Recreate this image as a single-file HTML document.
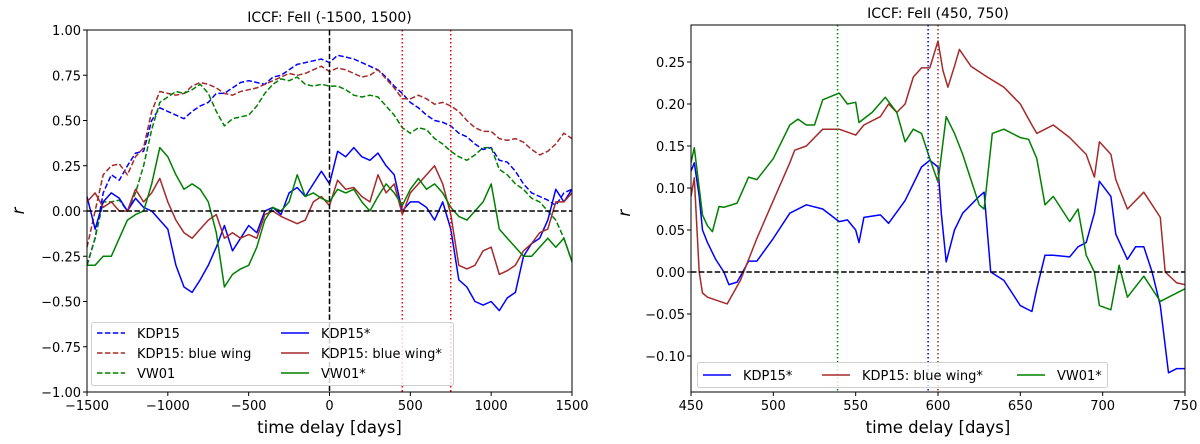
<!DOCTYPE html>
<html><head><meta charset="utf-8">
<style>
html,body{margin:0;padding:0;background:#fff;}
svg{display:block;font-family:"DejaVu Sans","Liberation Sans",sans-serif;}
</style></head>
<body>
<svg id="fig" width="1200" height="444" viewBox="0 0 1200 444"></svg>
<script>
// ---------- Left chart data ----------
const leftX = [];
for (let v = -1500; v <= 1500; v += 50) leftX.push(v);
const kdp15 = [-0.3,-0.15,0.1,0.2,0.17,0.25,0.32,0.33,0.5,0.57,0.55,0.53,0.51,0.55,0.58,0.6,0.65,0.65,0.68,0.71,0.72,0.71,0.7,0.74,0.75,0.78,0.81,0.82,0.83,0.84,0.82,0.86,0.85,0.84,0.82,0.8,0.78,0.74,0.69,0.65,0.6,0.57,0.53,0.5,0.49,0.47,0.43,0.41,0.37,0.34,0.35,0.28,0.27,0.22,0.15,0.1,0.08,0.06,0.03,0.1,0.12];
const kdp15Wing = [-0.2,0.0,0.2,0.25,0.26,0.2,0.3,0.35,0.55,0.66,0.65,0.64,0.65,0.69,0.71,0.7,0.68,0.65,0.64,0.66,0.67,0.68,0.7,0.72,0.74,0.76,0.75,0.76,0.78,0.8,0.77,0.79,0.78,0.76,0.74,0.75,0.78,0.73,0.68,0.62,0.62,0.64,0.62,0.59,0.6,0.58,0.55,0.5,0.46,0.44,0.44,0.4,0.39,0.4,0.38,0.34,0.31,0.33,0.37,0.43,0.4];
const vw01 = [-0.3,-0.15,0.05,0.05,0.06,0.0,0.1,0.25,0.45,0.6,0.63,0.66,0.65,0.67,0.7,0.65,0.55,0.47,0.51,0.52,0.53,0.58,0.65,0.7,0.73,0.72,0.74,0.7,0.69,0.7,0.69,0.69,0.67,0.64,0.63,0.64,0.63,0.58,0.53,0.46,0.43,0.46,0.45,0.4,0.37,0.33,0.3,0.28,0.31,0.35,0.35,0.23,0.2,0.15,0.12,0.07,0.05,0.0,-0.05,-0.15,-0.28];
const kdp15S = [0.08,-0.1,0.05,0.1,0.07,0.0,0.07,0.02,0.0,-0.05,-0.1,-0.3,-0.42,-0.45,-0.38,-0.3,-0.2,-0.08,-0.22,-0.15,-0.08,-0.12,0.0,0.02,-0.02,0.1,0.13,0.08,0.15,0.22,0.15,0.33,0.3,0.35,0.3,0.28,0.32,0.25,0.2,0.0,0.05,0.05,0.02,-0.05,0.05,-0.1,-0.38,-0.42,-0.5,-0.52,-0.5,-0.55,-0.48,-0.45,-0.25,-0.18,-0.15,-0.05,0.12,0.05,0.12];
const kdp15WingS = [0.05,0.1,0.02,0.05,0.0,0.0,0.12,0.05,0.1,0.18,0.05,-0.05,-0.12,-0.15,-0.1,-0.05,-0.02,-0.15,-0.12,-0.15,-0.13,-0.15,-0.02,0.0,-0.03,-0.05,-0.07,-0.05,0.05,0.08,0.03,0.17,0.12,0.13,0.08,0.05,0.2,0.1,0.15,-0.02,0.1,0.15,0.2,0.25,0.15,-0.02,-0.3,-0.32,-0.3,-0.22,-0.2,-0.35,-0.33,-0.3,-0.22,-0.18,-0.12,-0.1,0.05,0.05,0.1];
const vw01S = [-0.3,-0.3,-0.25,-0.25,-0.15,-0.05,-0.02,0.0,0.15,0.35,0.3,0.2,0.12,0.15,0.12,0.05,-0.12,-0.42,-0.35,-0.32,-0.3,-0.2,-0.05,0.02,0.0,0.05,0.2,0.08,0.1,0.07,0.05,0.12,0.1,0.12,0.05,0.0,0.08,0.15,0.1,0.03,0.12,0.18,0.12,0.15,0.1,0.02,-0.03,-0.05,0.0,0.05,0.15,-0.1,-0.15,-0.2,-0.25,-0.25,-0.2,-0.15,-0.2,-0.15,-0.28];
const leftXTicks = [-1500,-1000,-500,0,500,1000,1500];
const leftYTicks = [1.0,0.75,0.5,0.25,0.0,-0.25,-0.5,-0.75,-1.0];
const leftVLinesRed = [450,750];

// ---------- Right chart data ----------
const rKdpX = [450,452,455,457,460,465,470,473,478,480,485,490,500,510,520,530,540,545,550,552,555,565,570,580,590,595,600,602,605,610,615,625,628,632,640,650,657,660,665,670,680,685,690,695,698,705,708,715,720,725,730,735,740,745,750];
const rKdpY = [0.12,0.13,0.09,0.05,0.035,0.015,0.0,-0.015,-0.012,-0.005,0.013,0.013,0.04,0.07,0.08,0.075,0.06,0.062,0.05,0.035,0.065,0.068,0.058,0.085,0.125,0.133,0.125,0.07,0.012,0.05,0.07,0.09,0.095,0.0,-0.01,-0.04,-0.047,-0.02,0.02,0.02,0.018,0.03,0.035,0.07,0.108,0.09,0.045,0.015,0.03,0.03,0.0,-0.04,-0.12,-0.115,-0.115];
const rWingX = [450,452,455,457,460,472,480,490,500,510,513,520,530,540,550,555,565,570,575,580,585,590,595,600,603,606,610,613,620,630,640,650,657,660,670,680,690,695,698,705,708,715,725,735,738,745,750];
const rWingY = [0.09,0.112,0.0,-0.025,-0.03,-0.038,-0.01,0.04,0.085,0.13,0.145,0.15,0.17,0.17,0.163,0.175,0.185,0.2,0.19,0.2,0.232,0.243,0.243,0.275,0.24,0.22,0.245,0.265,0.245,0.232,0.22,0.2,0.175,0.165,0.175,0.16,0.14,0.113,0.155,0.14,0.11,0.075,0.095,0.065,0.0,-0.013,-0.015];
const rVwX = [450,452,455,457,460,463,467,470,478,485,490,500,510,515,520,525,530,540,545,550,552,560,568,575,580,585,590,595,600,605,610,615,620,625,628,633,640,650,655,660,665,670,680,685,690,695,698,705,710,715,725,735,740,750];
const rVwY = [0.13,0.148,0.1,0.068,0.055,0.048,0.078,0.077,0.082,0.113,0.11,0.135,0.175,0.182,0.175,0.175,0.205,0.213,0.2,0.202,0.178,0.19,0.208,0.19,0.155,0.17,0.165,0.135,0.107,0.185,0.165,0.14,0.11,0.08,0.075,0.165,0.17,0.16,0.158,0.135,0.08,0.09,0.06,0.075,0.02,0.0,-0.04,-0.045,0.008,-0.03,-0.005,-0.035,-0.03,-0.02];
const rightXTicks = [450,500,550,600,650,700,750];
const rightYTicks = [0.25,0.2,0.15,0.1,0.05,0.0,-0.05,-0.1];
const rightPeaks = [539,594,600];

// ---------- helpers ----------
const NS = "http://www.w3.org/2000/svg";
const svg = document.getElementById('fig');
function mk(tag, attrs, parent) {
  const e = document.createElementNS(NS, tag);
  for (const k in attrs) e.setAttribute(k, attrs[k]);
  (parent || svg).appendChild(e);
  return e;
}
function fmt(v, d) { const s = Math.abs(v).toFixed(d); return (v < -1e-9 ? '\u2212' : '') + s; }

const BLUE = '#0000ff', BROWN = '#a52a2a', GREEN = '#008000';

// ---------- Left axes ----------
const L = {x0: 87, x1: 572, y0: 30, y1: 392, xmin: -1500, xmax: 1500, ymin: -1, ymax: 1};
const lx = v => L.x0 + (v - L.xmin) / (L.xmax - L.xmin) * (L.x1 - L.x0);
const ly = v => L.y1 - (v - L.ymin) / (L.ymax - L.ymin) * (L.y1 - L.y0);

const gL = mk('g', {});


const clipL = mk('clipPath', {id: 'clipL'}, gL);
mk('rect', {x: L.x0, y: L.y0, width: L.x1 - L.x0, height: L.y1 - L.y0}, clipL);

function series(g, xs, ys, xf, yf, color, dash, name, clip) {
  const d = xs.map((x, i) => (i ? 'L' : 'M') + xf(x).toFixed(1) + ' ' + yf(ys[i]).toFixed(1)).join(' ');
  const p = mk('path', {d: d, fill: 'none', stroke: color, 'stroke-width': 1.5, 'clip-path': clip, 'stroke-linejoin': 'round'}, g);
  if (dash) p.setAttribute('stroke-dasharray', dash);
  
  
}
series(gL, leftX, kdp15, lx, ly, BLUE, '5.5 2.4', 'kdp15-dashed-line', 'url(#clipL)');
series(gL, leftX, kdp15Wing, lx, ly, BROWN, '5.5 2.4', 'kdp15-blue-wing-dashed-line', 'url(#clipL)');
series(gL, leftX, vw01, lx, ly, GREEN, '5.5 2.4', 'vw01-dashed-line', 'url(#clipL)');
series(gL, leftX, kdp15S, lx, ly, BLUE, null, 'kdp15-star-line', 'url(#clipL)');
series(gL, leftX, kdp15WingS, lx, ly, BROWN, null, 'kdp15-blue-wing-star-line', 'url(#clipL)');
series(gL, leftX, vw01S, lx, ly, GREEN, null, 'vw01-star-line', 'url(#clipL)');

const zl = mk('line', {x1: L.x0, x2: L.x1, y1: ly(0), y2: ly(0), stroke: '#000', 'stroke-width': 1.5, 'stroke-dasharray': '5.5 2.4'}, gL);


const vz = mk('line', {x1: lx(0), x2: lx(0), y1: L.y0, y2: L.y1, stroke: '#000', 'stroke-width': 1.5, 'stroke-dasharray': '5.5 2.4'}, gL);


leftVLinesRed.forEach(v => {
  const l = mk('line', {x1: lx(v), x2: lx(v), y1: L.y0, y2: L.y1, stroke: '#ff0000', 'stroke-width': 1.5, 'stroke-dasharray': '1.5 2.5'}, gL);
  
  
});

// legend left
const legL = mk('g', {}, gL);


mk('rect', {x: 91.5, y: 322.5, width: 362, height: 63, rx: 2, fill: '#fff', 'fill-opacity': 0.8, stroke: '#d0d0d0'}, legL);
const legItemsL = [
  [97, 333, BLUE, true, 'KDP15'], [97, 353, BROWN, true, 'KDP15: blue wing'], [97, 373, GREEN, true, 'VW01'],
  [281, 333, BLUE, false, 'KDP15*'], [281, 353, BROWN, false, 'KDP15: blue wing*'], [281, 373, GREEN, false, 'VW01*']];
legItemsL.forEach(it => {
  const g = mk('g', {}, legL);
  
  
  const l = mk('line', {x1: it[0], x2: it[0] + 28, y1: it[1], y2: it[1], stroke: it[2], 'stroke-width': 1.5}, g);
  if (it[3]) l.setAttribute('stroke-dasharray', '5.5 2.4');
  const t = mk('text', {x: it[0] + 40, y: it[1] + 5, 'font-size': 13}, g);
  t.textContent = it[4];
});

// frame + ticks left
mk('rect', {x: L.x0, y: L.y0, width: L.x1 - L.x0, height: L.y1 - L.y0, fill: 'none', stroke: '#000', 'stroke-width': 1}, gL);
leftXTicks.forEach(v => {
  mk('line', {x1: lx(v), x2: lx(v), y1: L.y1, y2: L.y1 + 4, stroke: '#000'}, gL);
  const t = mk('text', {x: lx(v), y: L.y1 + 18, 'font-size': 13, 'text-anchor': 'middle'}, gL);
  
  
  t.textContent = fmt(v, 0);
});
leftYTicks.forEach(v => {
  mk('line', {x1: L.x0 - 4, x2: L.x0, y1: ly(v), y2: ly(v), stroke: '#000'}, gL);
  const t = mk('text', {x: L.x0 - 6, y: ly(v) + 5, 'font-size': 13, 'text-anchor': 'end'}, gL);
  
  
  t.textContent = fmt(v, 2);
});
let t;
t = mk('text', {x: (L.x0 + L.x1) / 2, y: 22, 'font-size': 14, 'text-anchor': 'middle'}, gL);
 
t.textContent = 'ICCF: FeII (-1500, 1500)';
t = mk('text', {x: (L.x0 + L.x1) / 2, y: 433, 'font-size': 16.5, 'text-anchor': 'middle'}, gL);
 
t.textContent = 'time delay [days]';
t = mk('text', {x: 0, y: 0, 'font-size': 16.5, 'font-style': 'italic', 'text-anchor': 'middle', transform: 'translate(24,' + ly(0) + ') rotate(-90)'}, gL);
 
t.textContent = 'r';

// ---------- Right axes ----------
const R = {x0: 691, x1: 1185, y0: 25, y1: 392, xmin: 450, xmax: 750};
const rx = v => R.x0 + (v - R.xmin) / (R.xmax - R.xmin) * (R.x1 - R.x0);
const ry = v => 272 - v * 840;

const gR = mk('g', {});


const clipR = mk('clipPath', {id: 'clipR'}, gR);
mk('rect', {x: R.x0, y: R.y0, width: R.x1 - R.x0, height: R.y1 - R.y0}, clipR);

series(gR, rKdpX, rKdpY, rx, ry, BLUE, null, 'right-kdp15-star-line', 'url(#clipR)');
series(gR, rWingX, rWingY, rx, ry, BROWN, null, 'right-kdp15-blue-wing-star-line', 'url(#clipR)');
series(gR, rVwX, rVwY, rx, ry, GREEN, null, 'right-vw01-star-line', 'url(#clipR)');

const zr = mk('line', {x1: R.x0, x2: R.x1, y1: ry(0), y2: ry(0), stroke: '#000', 'stroke-width': 1.5, 'stroke-dasharray': '5.5 2.4'}, gR);


const peakColors = [GREEN, BLUE, BROWN];
const peakNames = ['vw01-peak-line', 'kdp15-peak-line', 'blue-wing-peak-line'];
rightPeaks.forEach((v, i) => {
  const l = mk('line', {x1: rx(v), x2: rx(v), y1: R.y0, y2: R.y1, stroke: peakColors[i], 'stroke-width': 1.5, 'stroke-dasharray': '1.5 2.5'}, gR);
  
  
});

const legR = mk('g', {}, gR);


mk('rect', {x: 697.5, y: 362.5, width: 410, height: 25, rx: 2, fill: '#fff', 'fill-opacity': 0.8, stroke: '#d0d0d0'}, legR);
const legItemsR = [[703, BLUE, 'KDP15*'], [822, BROWN, 'KDP15: blue wing*'], [1017, GREEN, 'VW01*']];
legItemsR.forEach(it => {
  const g = mk('g', {}, legR);
  
  
  mk('line', {x1: it[0], x2: it[0] + 28, y1: 375, y2: 375, stroke: it[1], 'stroke-width': 1.5}, g);
  const tt = mk('text', {x: it[0] + 40, y: 380, 'font-size': 13}, g);
  tt.textContent = it[2];
});

mk('rect', {x: R.x0, y: R.y0, width: R.x1 - R.x0, height: R.y1 - R.y0, fill: 'none', stroke: '#000', 'stroke-width': 1}, gR);
rightXTicks.forEach(v => {
  mk('line', {x1: rx(v), x2: rx(v), y1: R.y1, y2: R.y1 + 4, stroke: '#000'}, gR);
  const tt = mk('text', {x: rx(v), y: R.y1 + 18, 'font-size': 13, 'text-anchor': 'middle'}, gR);
  
  
  tt.textContent = fmt(v, 0);
});
rightYTicks.forEach(v => {
  mk('line', {x1: R.x0 - 4, x2: R.x0, y1: ry(v), y2: ry(v), stroke: '#000'}, gR);
  const tt = mk('text', {x: R.x0 - 6, y: ry(v) + 5, 'font-size': 13, 'text-anchor': 'end'}, gR);
  
  
  tt.textContent = fmt(v, 2);
});
t = mk('text', {x: (R.x0 + R.x1) / 2, y: 18, 'font-size': 14, 'text-anchor': 'middle'}, gR);
 
t.textContent = 'ICCF: FeII (450, 750)';
t = mk('text', {x: (R.x0 + R.x1) / 2, y: 433, 'font-size': 16.5, 'text-anchor': 'middle'}, gR);
 
t.textContent = 'time delay [days]';
t = mk('text', {x: 0, y: 0, 'font-size': 16.5, 'font-style': 'italic', 'text-anchor': 'middle', transform: 'translate(630,' + ry(0.07) + ') rotate(-90)'}, gR);
 
t.textContent = 'r';
</script>
</body></html>
